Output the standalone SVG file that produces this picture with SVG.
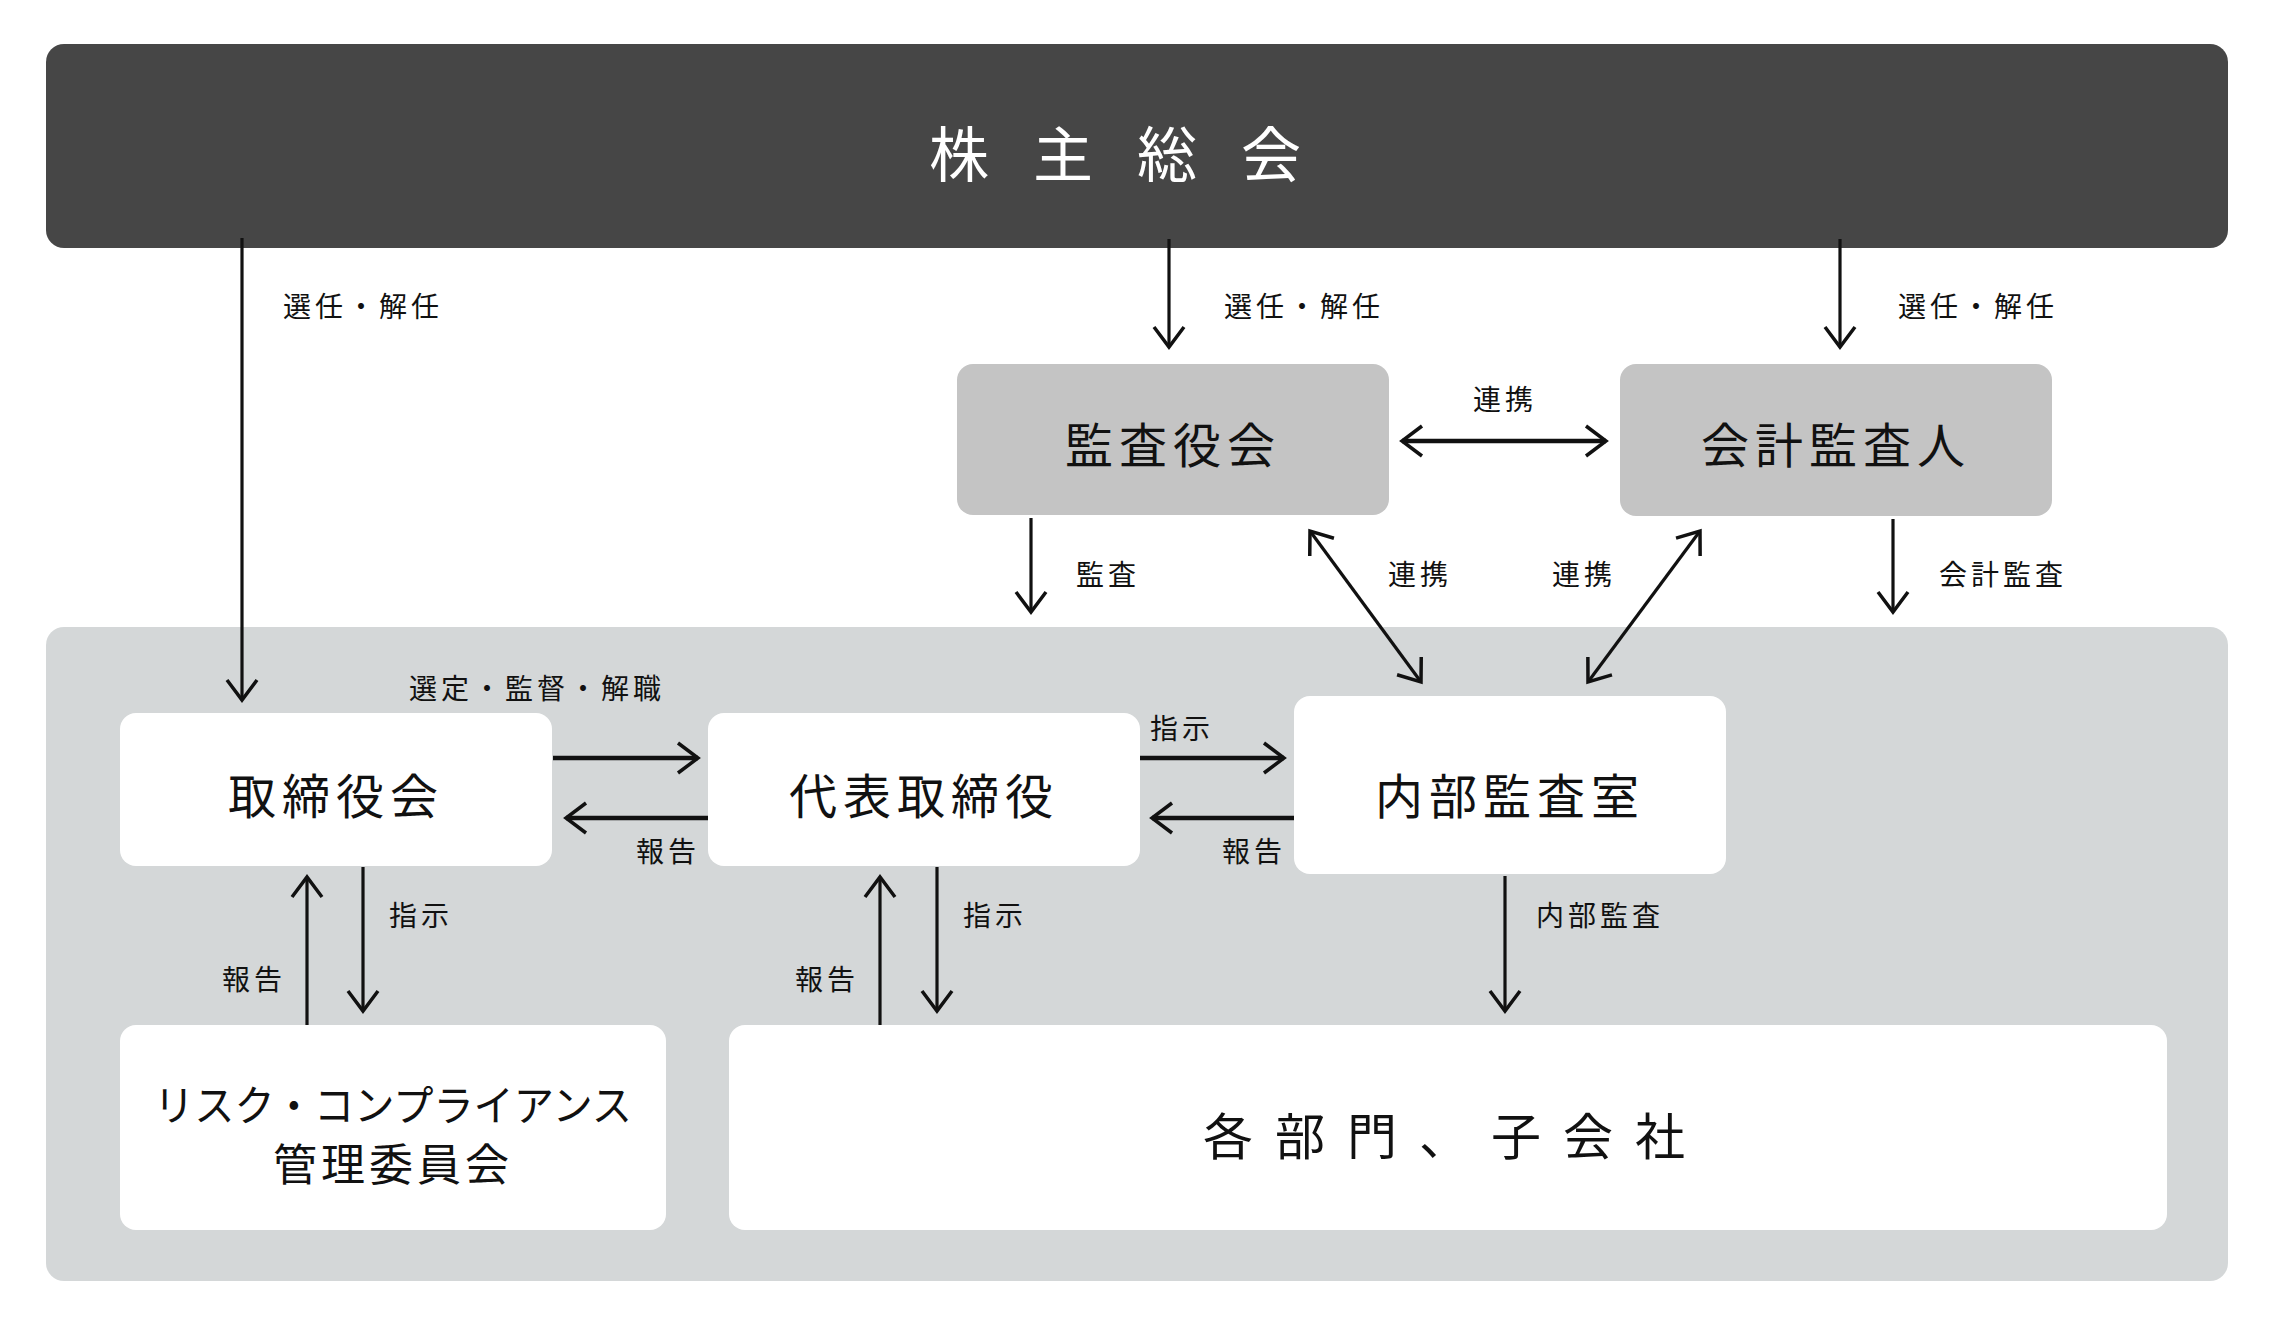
<svg xmlns="http://www.w3.org/2000/svg" width="2274" height="1325" viewBox="0 0 2274 1325">
<style>
text{font-family:"Noto Sans CJK JP","Noto Sans",sans-serif;text-anchor:middle;dominant-baseline:central;fill:#111}
.lbl{font-size:28px;letter-spacing:4px}
.node{font-size:48px;letter-spacing:6px}
.c line{stroke:#111;stroke-width:3.2;fill:none}
.c .t{stroke-width:4.5}
</style>
<defs>
<marker id="a" markerUnits="userSpaceOnUse" markerWidth="40" markerHeight="40" refX="22" refY="20" orient="auto-start-reverse" viewBox="0 0 40 40">
<path d="M2,5 L22,20 L2,35" fill="none" stroke="#111" stroke-width="3.5"/>
</marker>
</defs>
<rect width="2274" height="1325" fill="#fff"/>
<g id="soukai"><rect x="46" y="44" width="2182" height="204" rx="18" fill="#464646"/><text x="1137" y="150" style="font-size:60px;letter-spacing:44px;fill:#fff">株主総会</text></g>
<g id="company"><rect x="46" y="627" width="2182" height="654" rx="18" fill="#d4d7d8"/></g>
<g id="kansayakukai"><rect x="957" y="364" width="432" height="151" rx="16" fill="#c4c4c4"/><text x="1173" y="442" class="node">監査役会</text></g>
<g id="kaikeikansanin"><rect x="1620" y="364" width="432" height="152" rx="16" fill="#c4c4c4"/><text x="1836" y="442" class="node">会計監査人</text></g>
<g id="torishimariyakukai"><rect x="120" y="713" width="432" height="153" rx="16" fill="#fff"/><text x="336" y="793" class="node">取締役会</text></g>
<g id="daihyo"><rect x="708" y="713" width="432" height="153" rx="16" fill="#fff"/><text x="924" y="793" class="node">代表取締役</text></g>
<g id="naibukansa"><rect x="1294" y="696" width="432" height="178" rx="16" fill="#fff"/><text x="1510" y="793" class="node">内部監査室</text></g>
<g id="risk"><rect x="120" y="1025" width="546" height="205" rx="16" fill="#fff"/><text x="393" y="1102" style="font-size:42px" textLength="478" lengthAdjust="spacingAndGlyphs">リスク・コンプライアンス</text><text x="393" y="1162" style="font-size:44px;letter-spacing:4px">管理委員会</text></g>
<g id="kakubumon"><rect x="729" y="1025" width="1438" height="205" rx="16" fill="#fff"/><text x="1455" y="1133" style="font-size:50px;letter-spacing:22px">各部門、子会社</text></g>
<g class="c" id="connectors">
<line x1="242" y1="238" x2="242" y2="700" marker-end="url(#a)"/>
<line x1="1169" y1="239" x2="1169" y2="347" marker-end="url(#a)"/>
<line x1="1840" y1="239" x2="1840" y2="347" marker-end="url(#a)"/>
<line class="t" x1="1402" y1="441" x2="1606" y2="441" marker-start="url(#a)" marker-end="url(#a)"/>
<line x1="1031" y1="518" x2="1031" y2="612" marker-end="url(#a)"/>
<line x1="1893" y1="519" x2="1893" y2="612" marker-end="url(#a)"/>
<line x1="1310" y1="531" x2="1421" y2="682" marker-start="url(#a)" marker-end="url(#a)"/>
<line x1="1700" y1="531" x2="1588" y2="682" marker-start="url(#a)" marker-end="url(#a)"/>
<line class="t" x1="553" y1="758" x2="698" y2="758" marker-end="url(#a)"/>
<line class="t" x1="708" y1="818" x2="566" y2="818" marker-end="url(#a)"/>
<line class="t" x1="1140" y1="758" x2="1284" y2="758" marker-end="url(#a)"/>
<line class="t" x1="1294" y1="818" x2="1152" y2="818" marker-end="url(#a)"/>
<line x1="363" y1="867" x2="363" y2="1011" marker-end="url(#a)"/>
<line x1="307" y1="1025" x2="307" y2="877" marker-end="url(#a)"/>
<line x1="937" y1="867" x2="937" y2="1011" marker-end="url(#a)"/>
<line x1="880" y1="1025" x2="880" y2="877" marker-end="url(#a)"/>
<line x1="1505" y1="876" x2="1505" y2="1011" marker-end="url(#a)"/>
</g>
<g id="labels">
<text class="lbl" x="363" y="305">選任・解任</text>
<text class="lbl" x="1304" y="305">選任・解任</text>
<text class="lbl" x="1978" y="305">選任・解任</text>
<text class="lbl" x="1505" y="398">連携</text>
<text class="lbl" x="1108" y="573">監査</text>
<text class="lbl" x="2003" y="573">会計監査</text>
<text class="lbl" x="1420" y="573">連携</text>
<text class="lbl" x="1584" y="573">連携</text>
<text class="lbl" x="537" y="687">選定・監督・解職</text>
<text class="lbl" x="668" y="850">報告</text>
<text class="lbl" x="1182" y="727">指示</text>
<text class="lbl" x="1254" y="850">報告</text>
<text class="lbl" x="421" y="914">指示</text>
<text class="lbl" x="254" y="978">報告</text>
<text class="lbl" x="995" y="914">指示</text>
<text class="lbl" x="827" y="978">報告</text>
<text class="lbl" x="1600" y="914">内部監査</text>
</g>
</svg>
